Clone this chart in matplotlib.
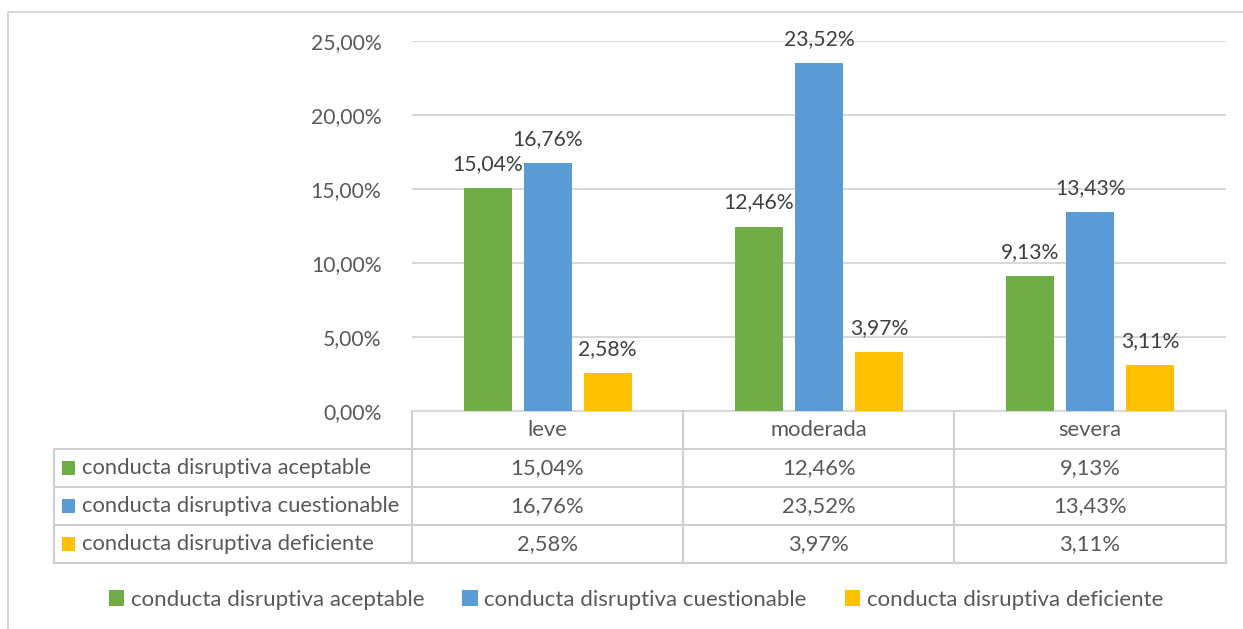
import numpy as np
import matplotlib
matplotlib.use('Agg')
import matplotlib.pyplot as plt
from matplotlib.lines import Line2D
from matplotlib.patches import Rectangle
from matplotlib.ticker import FuncFormatter

plt.rcParams['font.family'] = ['Lato', 'DejaVu Sans']

# data
categories = ['leve', 'moderada', 'severa']
series_names = ['conducta disruptiva aceptable',
                'conducta disruptiva cuestionable',
                'conducta disruptiva deficiente']
aceptable = [15.04, 12.46, 9.13]
cuestionable = [16.76, 23.52, 13.43]
deficiente = [2.58, 3.97, 3.11]
series = [aceptable, cuestionable, deficiente]
colors = ['#70AD47', '#5B9BD5', '#FFC000']
yticks = [0, 5, 10, 15, 20, 25]

TXT = '#595959'
GRID = '#D9D9D9'
FS = 15.2
FS_TAB = 15.8
FS_LEG = 16.0
W, H = 1243, 629


def pct(v):
    return '{:.2f}%'.format(v).replace('.', ',')


def fx(px):
    return px / W


def fy(py):
    return 1 - py / H


fig = plt.figure(figsize=(W / 100, H / 100), dpi=100)

# plot area in pixels
left, right, top, bottom = 412, 1226, 41, 411
ax = fig.add_axes([fx(left), fy(bottom), fx(right - left), (bottom - top) / H])

x = np.arange(len(categories))
bw = 48 / 271.33
step = 60 / 271.33
for i, vals in enumerate(series):
    pos = x + (i - 1) * step
    ax.bar(pos, vals, width=bw, color=colors[i], zorder=3)
    for p, v in zip(pos, vals):
        ax.annotate(pct(v), (p, v), xytext=(0, 13), textcoords='offset points',
                    ha='center', va='baseline', color='#404040', fontsize=FS)

ax.set_xlim(-0.5, len(categories) - 0.5)
ax.set_ylim(0, 25)
ax.set_yticks(yticks)
ax.yaxis.set_major_formatter(FuncFormatter(lambda v, _: pct(v)))
ax.tick_params(axis='y', length=0, pad=22, labelsize=FS, labelcolor=TXT)
ax.tick_params(axis='x', length=0, labelbottom=False)
ax.grid(axis='y', color=GRID, linewidth=1.5, zorder=0)
for s in ['top', 'right', 'left']:
    ax.spines[s].set_visible(False)
ax.spines['bottom'].set_color(GRID)
ax.spines['bottom'].set_linewidth(1.5)
ax.set_facecolor('none')

# data table below the axis
tcol = '#D0D0D0'
row_y = [411, 449, 487, 525, 563]
col_x = [412, 683, 954, 1226]
tab_left = 54
lw = 1.5


def fline(xs, ys):
    fig.add_artist(Line2D([fx(a) for a in xs], [fy(b) for b in ys],
                          color=tcol, linewidth=lw))


for yy in row_y[1:]:
    fline([tab_left, col_x[-1]], [yy, yy])
for xx in col_x:
    fline([xx, xx], [row_y[0], row_y[-1]])
fline([tab_left, tab_left], [row_y[1], row_y[-1]])

ccx = [(col_x[j] + col_x[j + 1]) / 2 for j in range(len(categories))]
for j, c in enumerate(categories):
    fig.text(fx(ccx[j]), fy((row_y[0] + row_y[1]) / 2), c, ha='center', va='center',
             color=TXT, fontsize=FS_TAB)
for i, vals in enumerate(series):
    cy = (row_y[i + 1] + row_y[i + 2]) / 2
    fig.add_artist(Rectangle((fx(62), fy(cy + 7)), fx(13), 14 / H,
                             facecolor=colors[i], edgecolor='none'))
    fig.text(fx(82), fy(cy), series_names[i], ha='left', va='center',
             color=TXT, fontsize=FS_TAB)
    for j, v in enumerate(vals):
        fig.text(fx(ccx[j]), fy(cy), pct(v), ha='center', va='center',
                 color=TXT, fontsize=FS_TAB)

# legend
handles = [Rectangle((0, 0), 1, 1, facecolor=c, edgecolor='none') for c in colors]
fig.legend(handles, series_names, loc='center', ncol=3,
           bbox_to_anchor=(fx(636), fy(600)), frameon=False, fontsize=FS_LEG,
           labelcolor=TXT, handlelength=0.7, handleheight=0.7,
           handletextpad=0.3, columnspacing=1.7)

# outer chart border
fig.add_artist(Line2D([fx(8), fx(8), 1], [0, fy(12), fy(12)],
                      color=GRID, linewidth=1.5))

fig.savefig('out.png', dpi=100, facecolor='white')
